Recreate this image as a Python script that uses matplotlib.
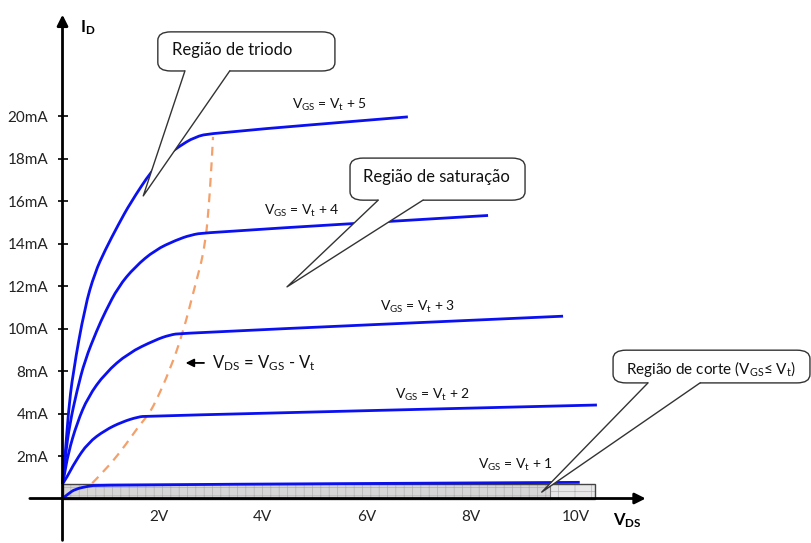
import matplotlib.pyplot as plt
from matplotlib.patches import FancyBboxPatch, Polygon, Rectangle, PathPatch
from matplotlib.path import Path
from matplotlib.transforms import ScaledTranslation

plt.rcParams['font.family'] = ['Lato', 'DejaVu Sans']
plt.rcParams['mathtext.fontset'] = 'custom'
plt.rcParams['mathtext.rm'] = 'Lato'
plt.rcParams['mathtext.it'] = 'Lato:italic'
plt.rcParams['mathtext.bf'] = 'Lato:bold'
plt.rcParams['hatch.linewidth'] = 0.5

# Drain characteristics: V_DS in volts, I_D in steps of the current axis
vds_5 = [0, 0.05, 0.11, 0.20, 0.43, 0.62, 0.82, 1.07, 1.30, 1.72, 1.97, 2.22, 2.54, 2.87, 6.63]
id_5 = [0.34, 0.98, 2.01, 2.95, 4.51, 5.31, 5.85, 6.44, 6.95, 7.73, 8.04, 8.27, 8.51, 8.60, 8.98]

vds_4 = [0, 0.05, 0.14, 0.28, 0.43, 0.66, 0.82, 1.07, 1.39, 1.78, 2.18, 2.46, 2.75, 8.17]
id_4 = [0.34, 0.98, 1.76, 2.55, 3.25, 3.96, 4.39, 4.98, 5.45, 5.85, 6.08, 6.20, 6.26, 6.66]

vds_3 = [0, 0.03, 0.11, 0.28, 0.49, 0.82, 1.26, 1.78, 2.06, 2.29, 9.61]
id_3 = [0.34, 0.51, 1.07, 1.78, 2.39, 2.95, 3.42, 3.73, 3.85, 3.89, 4.29]

vds_2 = [0, 0.09, 0.24, 0.49, 0.82, 1.14, 1.45, 1.62, 10.26]
id_2 = [0.34, 0.51, 0.86, 1.31, 1.61, 1.80, 1.92, 1.94, 2.20]

vds_1 = [0, 0.11, 0.24, 0.49, 0.68, 9.93]
id_1 = [0, 0.11, 0.22, 0.29, 0.32, 0.38]

# boundary V_DS = V_GS - V_t
vds_sat = [0.57, 0.82, 1.14, 1.45, 1.64, 1.78, 2.06, 2.31, 2.54, 2.74, 2.83, 2.89]
id_sat = [0.36, 0.67, 1.14, 1.68, 1.96, 2.25, 3.02, 3.89, 4.98, 5.92, 7.18, 8.51]

# cut-off band
cut_end = 9.36
cut_edge = 10.22
cut_top = 0.34

ytick_pos = [1, 2, 3, 4, 5, 6, 7, 8, 9]
ytick_labels = ['2mA', '4mA', '8mA', '10mA', '12mA', '14mA', '16mA', '18mA', '20mA']
xtick_pos = [2, 4, 6, 8, 10]
xtick_labels = ['2V', '4V', '6V', '8V', '10V']

curves = [
    (vds_5, id_5, r'V$_{\mathregular{GS}}$ = V$_{\mathregular{t}}$ + 5', (5.13, 9.26)),
    (vds_4, id_4, r'V$_{\mathregular{GS}}$ = V$_{\mathregular{t}}$ + 4', (4.60, 6.76)),
    (vds_3, id_3, r'V$_{\mathregular{GS}}$ = V$_{\mathregular{t}}$ + 3', (6.82, 4.51)),
    (vds_2, id_2, r'V$_{\mathregular{GS}}$ = V$_{\mathregular{t}}$ + 2', (7.11, 2.44)),
    (vds_1, id_1, r'V$_{\mathregular{GS}}$ = V$_{\mathregular{t}}$ + 1', (8.69, 0.79)),
]


def smooth(xs, ys):
    # quadratic segments through the midpoints, read points act as control points
    verts = [(xs[0], ys[0])]
    codes = [Path.MOVETO]
    for i in range(1, len(xs) - 1):
        verts += [(xs[i], ys[i]), ((xs[i] + xs[i + 1]) / 2, (ys[i] + ys[i + 1]) / 2)]
        codes += [Path.CURVE3, Path.CURVE3]
    verts.append((xs[-1], ys[-1]))
    codes.append(Path.LINETO)
    return Path(verts, codes)


fig = plt.figure(figsize=(8.11, 5.43), dpi=100)
ax = fig.add_axes([0, 0, 1, 1])
ax.set_xlim(-1.2, 14.37)
ax.set_ylim(-1.047, 11.73)
for s in ax.spines.values():
    s.set_visible(False)
ax.spines['left'].set_position(('data', 0))
ax.spines['bottom'].set_position(('data', 0))

ax.set_yticks(ytick_pos)
ax.set_yticklabels(ytick_labels, fontsize=11, color='#222222')
ax.tick_params(axis='y', direction='inout', length=7.5, width=1.2, pad=6.5)
ax.set_xticks(xtick_pos)
ax.set_xticklabels(xtick_labels, fontsize=11, color='#222222')
ax.tick_params(axis='x', length=0, pad=8)
shift = ScaledTranslation(-8 / 100, 0, fig.dpi_scale_trans)
for lbl in ax.get_xticklabels():
    lbl.set_transform(lbl.get_transform() + shift)

# axes with arrow heads
ax.annotate('', xy=(0, 11.45), xytext=(0, -1.05),
            arrowprops=dict(arrowstyle='-|>', lw=2, color='black', mutation_scale=16), zorder=6)
ax.annotate('', xy=(11.25, 0), xytext=(-0.68, 0),
            arrowprops=dict(arrowstyle='-|>', lw=2, color='black', mutation_scale=16), zorder=6)
ax.text(0.48, 11.07, r'I$_{\mathregular{D}}$', fontsize=12, fontweight='bold', ha='center', va='center')
ax.text(10.85, -0.52, r'V$_{\mathregular{DS}}$', fontsize=12, fontweight='bold', ha='center', va='center')

# cut-off region
ax.add_patch(Rectangle((0, 0), cut_end, cut_top, facecolor='#d6d6d6', edgecolor='#b0b0b0',
                       hatch='++', lw=0, zorder=1))
ax.add_patch(Rectangle((cut_end, 0), cut_edge - cut_end, cut_top, facecolor='#e8e8e8',
                       edgecolor='#b4b4b4', hatch='+', lw=0, zorder=1))
ax.add_patch(Rectangle((0, 0), cut_edge, cut_top, facecolor='none', edgecolor='#444444',
                       lw=1, zorder=1.5))
ax.plot([cut_end, cut_end], [0, cut_top], color='#777777', lw=0.8, zorder=1.5)

ax.add_patch(PathPatch(smooth(vds_sat, id_sat), facecolor='none', edgecolor='#f4a06a',
                       lw=1.6, ls=(0, (4, 3)), zorder=2))

for vx, iy, lab, pos in curves:
    ax.add_patch(PathPatch(smooth(vx, iy), facecolor='none', edgecolor='#0a10f0',
                           lw=2.0, zorder=3, capstyle='butt'))
    ax.text(pos[0], pos[1], lab, fontsize=10, ha='center', va='center', color='#111111')

ax.annotate('', xy=(2.31, 3.19), xytext=(2.77, 3.19),
            arrowprops=dict(arrowstyle='-|>', lw=1.3, color='black', mutation_scale=12))
ax.text(2.87, 3.19, r'V$_{\mathregular{DS}}$ = V$_{\mathregular{GS}}$ - V$_{\mathregular{t}}$',
        fontsize=12, ha='left', va='center', color='#111111')


def callout(x0, x1, y0, y1, base, tip, text, tx, ty, size=12):
    box = FancyBboxPatch((x0, y0), x1 - x0, y1 - y0,
                         boxstyle='round,pad=0,rounding_size=0.25', mutation_aspect=0.8,
                         facecolor='white', edgecolor='#333333', lw=1, zorder=7)
    ax.add_patch(box)
    eps = 0.06
    tail = Polygon([(base[0], y0 + eps), (base[0], y0), tip, (base[1], y0), (base[1], y0 + eps)],
                   closed=True, facecolor='white', edgecolor='none', zorder=7.5)
    ax.add_patch(tail)
    ax.plot([base[0], tip[0], base[1]], [y0, tip[1], y0], color='#333333', lw=1, zorder=8)
    ax.text(tx, ty, text, fontsize=size, ha='left', va='center', color='#111111', zorder=9)


callout(1.83, 5.23, 10.06, 10.98, (2.35, 3.21), (1.55, 7.12), 'Região de triodo', 2.10, 10.55)
callout(5.52, 8.88, 7.02, 8.01, (6.06, 6.92), (4.31, 4.98), 'Região de saturação', 5.77, 7.56)
callout(10.57, 14.35, 2.72, 3.49, (11.24, 12.24), (9.20, 0.15),
        r'Região de corte (V$_{\mathregular{GS}}$≤ V$_{\mathregular{t}}$)', 10.82, 3.05, size=11)

fig.savefig('out.png', dpi=100)
